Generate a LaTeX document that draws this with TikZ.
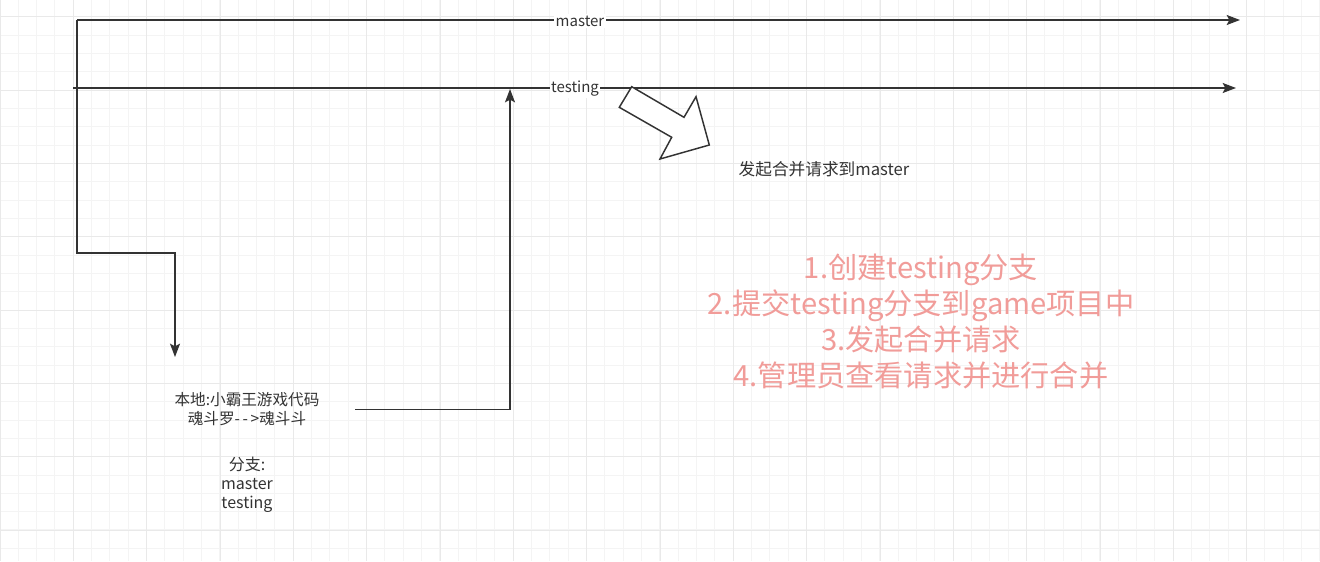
\documentclass[tikz,border=0pt]{standalone}
\usepackage{fontspec}
\setmainfont{Noto Sans CJK SC}
\usetikzlibrary{arrows.meta}
\definecolor{LineGray}{HTML}{333333}
\definecolor{NoteRed}{HTML}{F19C99}
\definecolor{GridMinor}{HTML}{F4F4F4}
\definecolor{GridMajor}{HTML}{E9E9E9}

\begin{document}
\begin{tikzpicture}[x=0.75pt, y=-0.75pt,
    branch/.style={draw=LineGray, line width=1.2pt,
      -{Stealth[length=10pt, width=7.5pt, inset=2pt]}},
    every node/.style={font=\fontsize{11.25pt}{14.25pt}\selectfont,
      text=LineGray, inner sep=1pt}]
  \useasboundingbox (0,0) rectangle (1320,561);
  % Grid paper background
  \fill[white] (0,0) rectangle (1320,561);
  \foreach \k in {0,...,72}
    \draw[GridMinor, line width=0.75pt] (18.333*\k,0) -- (18.333*\k,561);
  \foreach \k in {1,...,31}
    \draw[GridMinor, line width=0.75pt] (0,-1.667+18.333*\k) -- (1320,-1.667+18.333*\k);
  \foreach \k in {0,...,18}
    \draw[GridMajor, line width=0.75pt] (73.333*\k,0) -- (73.333*\k,561);
  \foreach \k in {0,...,7}
    \draw[GridMajor, line width=0.75pt] (0,16.667+73.333*\k) -- (1320,16.667+73.333*\k);

  % Branch lines
  \coordinate (masterstart) at (77,20);
  \coordinate (masterend) at (1240,20);
  \coordinate (testingstart) at (73,88);
  \coordinate (testingend) at (1236,88);
  \coordinate (mergeend) at (510,89);
  \coordinate (localtop) at (175,357);
  \draw[branch] (masterstart) -- (masterend);
  \draw[branch] (testingstart) -- (testingend);
  \node (masterlbl) [fill=white] at (580,21) {master};
  \node (testinglbl) [fill=white] at (575,89) {testing};

  % Local repository
  \node (local) [align=center, minimum width=216*0.75pt,
    font=\fontsize{11.7pt}{14.25pt}\selectfont] at (247,409.5)
    {本地:小霸王游戏代码\\魂斗罗-\,-\,>魂斗斗};
  \node (branches) [align=center, anchor=north,
    font=\fontsize{12pt}{14.25pt}\selectfont] at (247,455)
    {分支:\\master\\testing};
  \draw[branch] (masterstart) |- (175,253) -- (localtop);
  \draw[branch] (local.east) -| (mergeend);

  % Pull request (block arrow)
  \draw[LineGray, line width=1.1pt, fill=white, line join=miter]
    (631.7,86.7) -- (684,117.3) -- (696,96.7) -- (709.3,145)
    -- (660,159) -- (671.7,137.3) -- (619.3,107.3) -- cycle;
  \node (request) [font=\fontsize{12.5pt}{15pt}\selectfont] at (824,169)
    {发起合并请求到master};

  % Steps
  \node (steps) [align=center, text=NoteRed,
    font=\fontsize{21.9pt}{27pt}\selectfont] at (921,321)
    {1.创建testing分支\\2.提交testing分支到game项目中\\3.发起合并请求\\4.管理员查看请求并进行合并};
\end{tikzpicture}
\end{document}
